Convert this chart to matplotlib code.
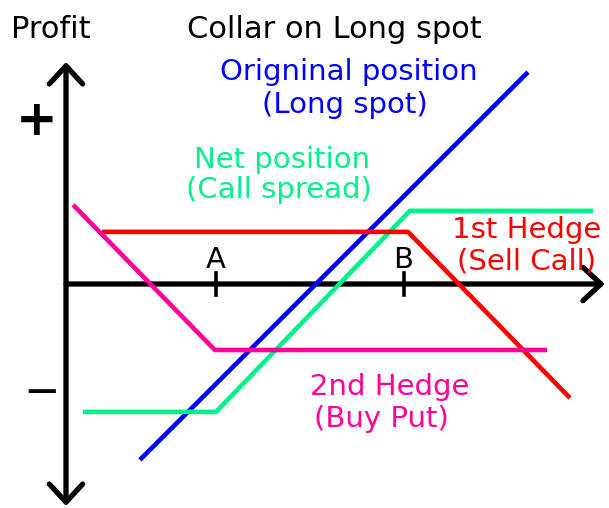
import matplotlib.pyplot as plt
from matplotlib.patches import FancyArrowPatch

# ----------------------------------------------------------------------------------------------------------------------
# Данные (условные единицы: цена по x, прибыль по y) ------------------------------------------------------------------
strike_a = 4.0
strike_b = 9.0

long_spot_x = [1.97, 12.32]
long_spot_y = [-4.69, 5.65]

net_x = [0.45, 4.0, 9.17, 14.05]
net_y = [-3.41, -3.41, 1.95, 1.95]

sell_call_x = [0.96, 9.12, 13.44]
sell_call_y = [1.39, 1.39, -3.04]

buy_put_x = [0.19, 3.97, 12.83]
buy_put_y = [2.11, -1.76, -1.76]

blue = '#0000FF'
green = '#00F08A'
red = '#FF0000'
pink = '#FF0099'

plt.rcParams['font.family'] = ['DejaVu Sans']

fig = plt.figure(figsize=(6.09, 5.08), dpi=100)
ax = fig.add_axes([0, 0, 1, 1])
ax.set_xlim(-1.76, 14.48)
ax.set_ylim(-5.973, 7.573)
ax.axis('off')

# ----------------------------------------------------------------------------------------------------------------------
# Оси со стрелками ----------------------------------------------------------------------------------------------------
ax.add_patch(FancyArrowPatch((0, -5.92), (0, 5.92), arrowstyle='<->,head_length=0.65,head_width=0.6',
                             mutation_scale=20, lw=3.8, color='black', shrinkA=0, shrinkB=0))
ax.add_patch(FancyArrowPatch((0, 0), (14.37, 0), arrowstyle='->,head_length=0.65,head_width=0.6',
                             mutation_scale=20, lw=3.8, color='black', shrinkA=0, shrinkB=0))
for s in [strike_a, strike_b]:
    ax.plot([s, s], [-0.29, 0.29], color='black', lw=2.6)

# ----------------------------------------------------------------------------------------------------------------------
# Линии позиций -------------------------------------------------------------------------------------------------------
ax.plot(long_spot_x, long_spot_y, color=blue, lw=3.3, solid_capstyle='butt')
ax.plot(net_x, net_y, color=green, lw=3.3, solid_capstyle='butt')
ax.plot(sell_call_x, sell_call_y, color=red, lw=3.3, solid_capstyle='butt')
ax.plot(buy_put_x, buy_put_y, color=pink, lw=3.3, solid_capstyle='butt')

# ----------------------------------------------------------------------------------------------------------------------
# Подписи -------------------------------------------------------------------------------------------------------------
fs = 21
ax.text(-0.4, 6.56, 'Profit', ha='center', va='baseline', fontsize=22)
ax.text(7.15, 6.56, 'Collar on Long spot', ha='center', va='baseline', fontsize=22)
ax.text(7.53, 5.44, 'Origninal position', ha='center', va='baseline', fontsize=fs, color=blue)
ax.text(7.44, 4.56, '(Long spot)', ha='center', va='baseline', fontsize=fs, color=blue)
ax.text(5.77, 3.09, 'Net position', ha='center', va='baseline', fontsize=fs, color=green)
ax.text(5.67, 2.29, '(Call spread)', ha='center', va='baseline', fontsize=fs, color=green)
ax.text(12.27, 1.23, '1st Hedge', ha='center', va='baseline', fontsize=fs, color=red)
ax.text(12.27, 0.40, '(Sell Call)', ha='center', va='baseline', fontsize=fs, color=red)
ax.text(8.64, -2.96, '2nd Hedge', ha='center', va='baseline', fontsize=fs, color=pink)
ax.text(8.40, -3.81, '(Buy Put)', ha='center', va='baseline', fontsize=fs, color=pink)
ax.text(strike_a, 0.43, 'A', ha='center', va='baseline', fontsize=fs)
ax.text(strike_b, 0.43, 'B', ha='center', va='baseline', fontsize=fs)

ax.text(-0.78, 4.35, '+', ha='center', va='center', fontsize=36, fontweight='bold')
ax.text(-0.64, -2.85, '\u2014', ha='center', va='center', fontsize=22, fontweight='bold')

fig.savefig('out.png', dpi=100)
